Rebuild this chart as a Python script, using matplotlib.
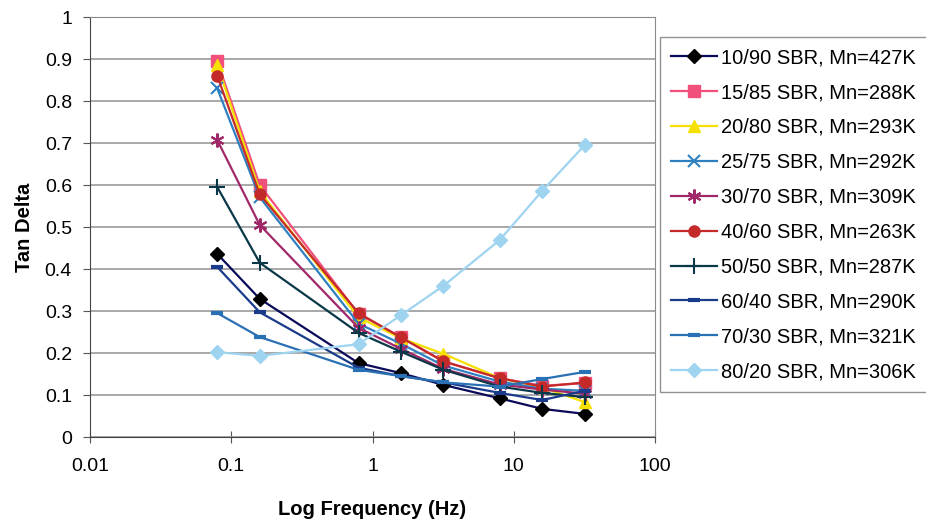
import matplotlib.pyplot as plt

plt.rcParams['font.family'] = ['Liberation Sans', 'DejaVu Sans']

# frequencies (Hz) = 0.5..200 rad/s
freq = [0.0796, 0.159, 0.796, 1.59, 3.18, 7.96, 15.9, 31.8]

labels = ['10/90 SBR, Mn=427K', '15/85 SBR, Mn=288K', '20/80 SBR, Mn=293K',
          '25/75 SBR, Mn=292K', '30/70 SBR, Mn=309K', '40/60 SBR, Mn=263K',
          '50/50 SBR, Mn=287K', '60/40 SBR, Mn=290K', '70/30 SBR, Mn=321K',
          '80/20 SBR, Mn=306K']

s10_90 = [0.436, 0.329, 0.176, 0.152, 0.124, 0.092, 0.067, 0.055]
s15_85 = [0.895, 0.600, 0.293, 0.238, 0.180, 0.140, 0.122, 0.128]
s20_80 = [0.886, 0.585, 0.285, 0.235, 0.198, 0.140, 0.118, 0.083]
s25_75 = [0.830, 0.571, 0.270, 0.222, 0.170, 0.132, 0.115, 0.110]
s30_70 = [0.707, 0.505, 0.260, 0.210, 0.162, 0.125, 0.113, 0.103]
s40_60 = [0.860, 0.578, 0.295, 0.237, 0.180, 0.140, 0.120, 0.130]
s50_50 = [0.595, 0.415, 0.248, 0.203, 0.160, 0.120, 0.105, 0.095]
s60_40 = [0.405, 0.297, 0.165, 0.145, 0.130, 0.105, 0.088, 0.110]
s70_30 = [0.295, 0.238, 0.160, 0.145, 0.130, 0.120, 0.138, 0.155]
s80_20 = [0.202, 0.193, 0.221, 0.290, 0.360, 0.469, 0.586, 0.695]

series = [s10_90, s15_85, s20_80, s25_75, s30_70, s40_60, s50_50, s60_40, s70_30, s80_20]

styles = [
    dict(color='#0a0a5a', marker='D', mfc='black', mec='black', ms=7),
    dict(color='#f0507a', marker='s', ms=8),
    dict(color='#f5e000', marker='^', ms=9),
    dict(color='#2f80c0', marker='x', ms=8, mew=1.5),
    dict(color='#a02868', marker=(6, 2, 0), ms=10, mew=1.5),
    dict(color='#c42a2a', marker='o', ms=8),
    dict(color='#0a3848', marker='+', ms=12, mew=1.5),
    dict(color='#1a3a8a', marker='_', ms=8, mew=3),
    dict(color='#2a70b4', marker='_', ms=8, mew=3),
    dict(color='#9ed4f0', marker='D', ms=7),
]

fig = plt.figure(figsize=(9.26, 5.25), dpi=100)
ax = fig.add_axes([90 / 926, 1 - 437 / 525, 565 / 926, 420 / 525])

for y, lab, st in zip(series, labels, styles):
    ax.plot(freq, y, lw=1.6, label=lab, **st)

ax.set_xscale('log')
ax.set_xlim(0.01, 100)
ax.set_ylim(0, 1)
ax.set_xticks([0.01, 0.1, 1, 10, 100])
ax.set_xticklabels(['0.01', '0.1', '1', '10', '100'])
ax.minorticks_off()
ax.set_yticks([i / 10 for i in range(11)])
ax.set_yticklabels(['0'] + ['0.%d' % i for i in range(1, 10)] + ['1'])
ax.yaxis.grid(True, color='#9a9a9a', lw=1.2)
ax.set_axisbelow(True)
for sp in ax.spines.values():
    sp.set_color('#8a8a8a')
ax.spines['left'].set_color('#444444')
ax.spines['bottom'].set_color('#444444')
ax.tick_params(axis='both', labelsize=14, direction='out', length=5, color='#555555', pad=8)
ax.tick_params(axis='x', direction='inout', length=8, pad=11)

ax.set_xlabel('Log Frequency (Hz)', fontsize=14.5, fontweight='bold', labelpad=18)
ax.set_ylabel('Tan Delta', fontsize=14.5, fontweight='bold', labelpad=8)

leg = fig.legend(loc='upper left', bbox_to_anchor=(650 / 926, 1 - 27 / 525),
                 bbox_transform=fig.transFigure, fontsize=14.5, frameon=True,
                 fancybox=False, edgecolor='#777777', labelspacing=0.79,
                 handlelength=2.3, handletextpad=0.2, borderpad=0.55)
leg.get_frame().set_linewidth(1.0)

fig.savefig('out.png', dpi=100)
